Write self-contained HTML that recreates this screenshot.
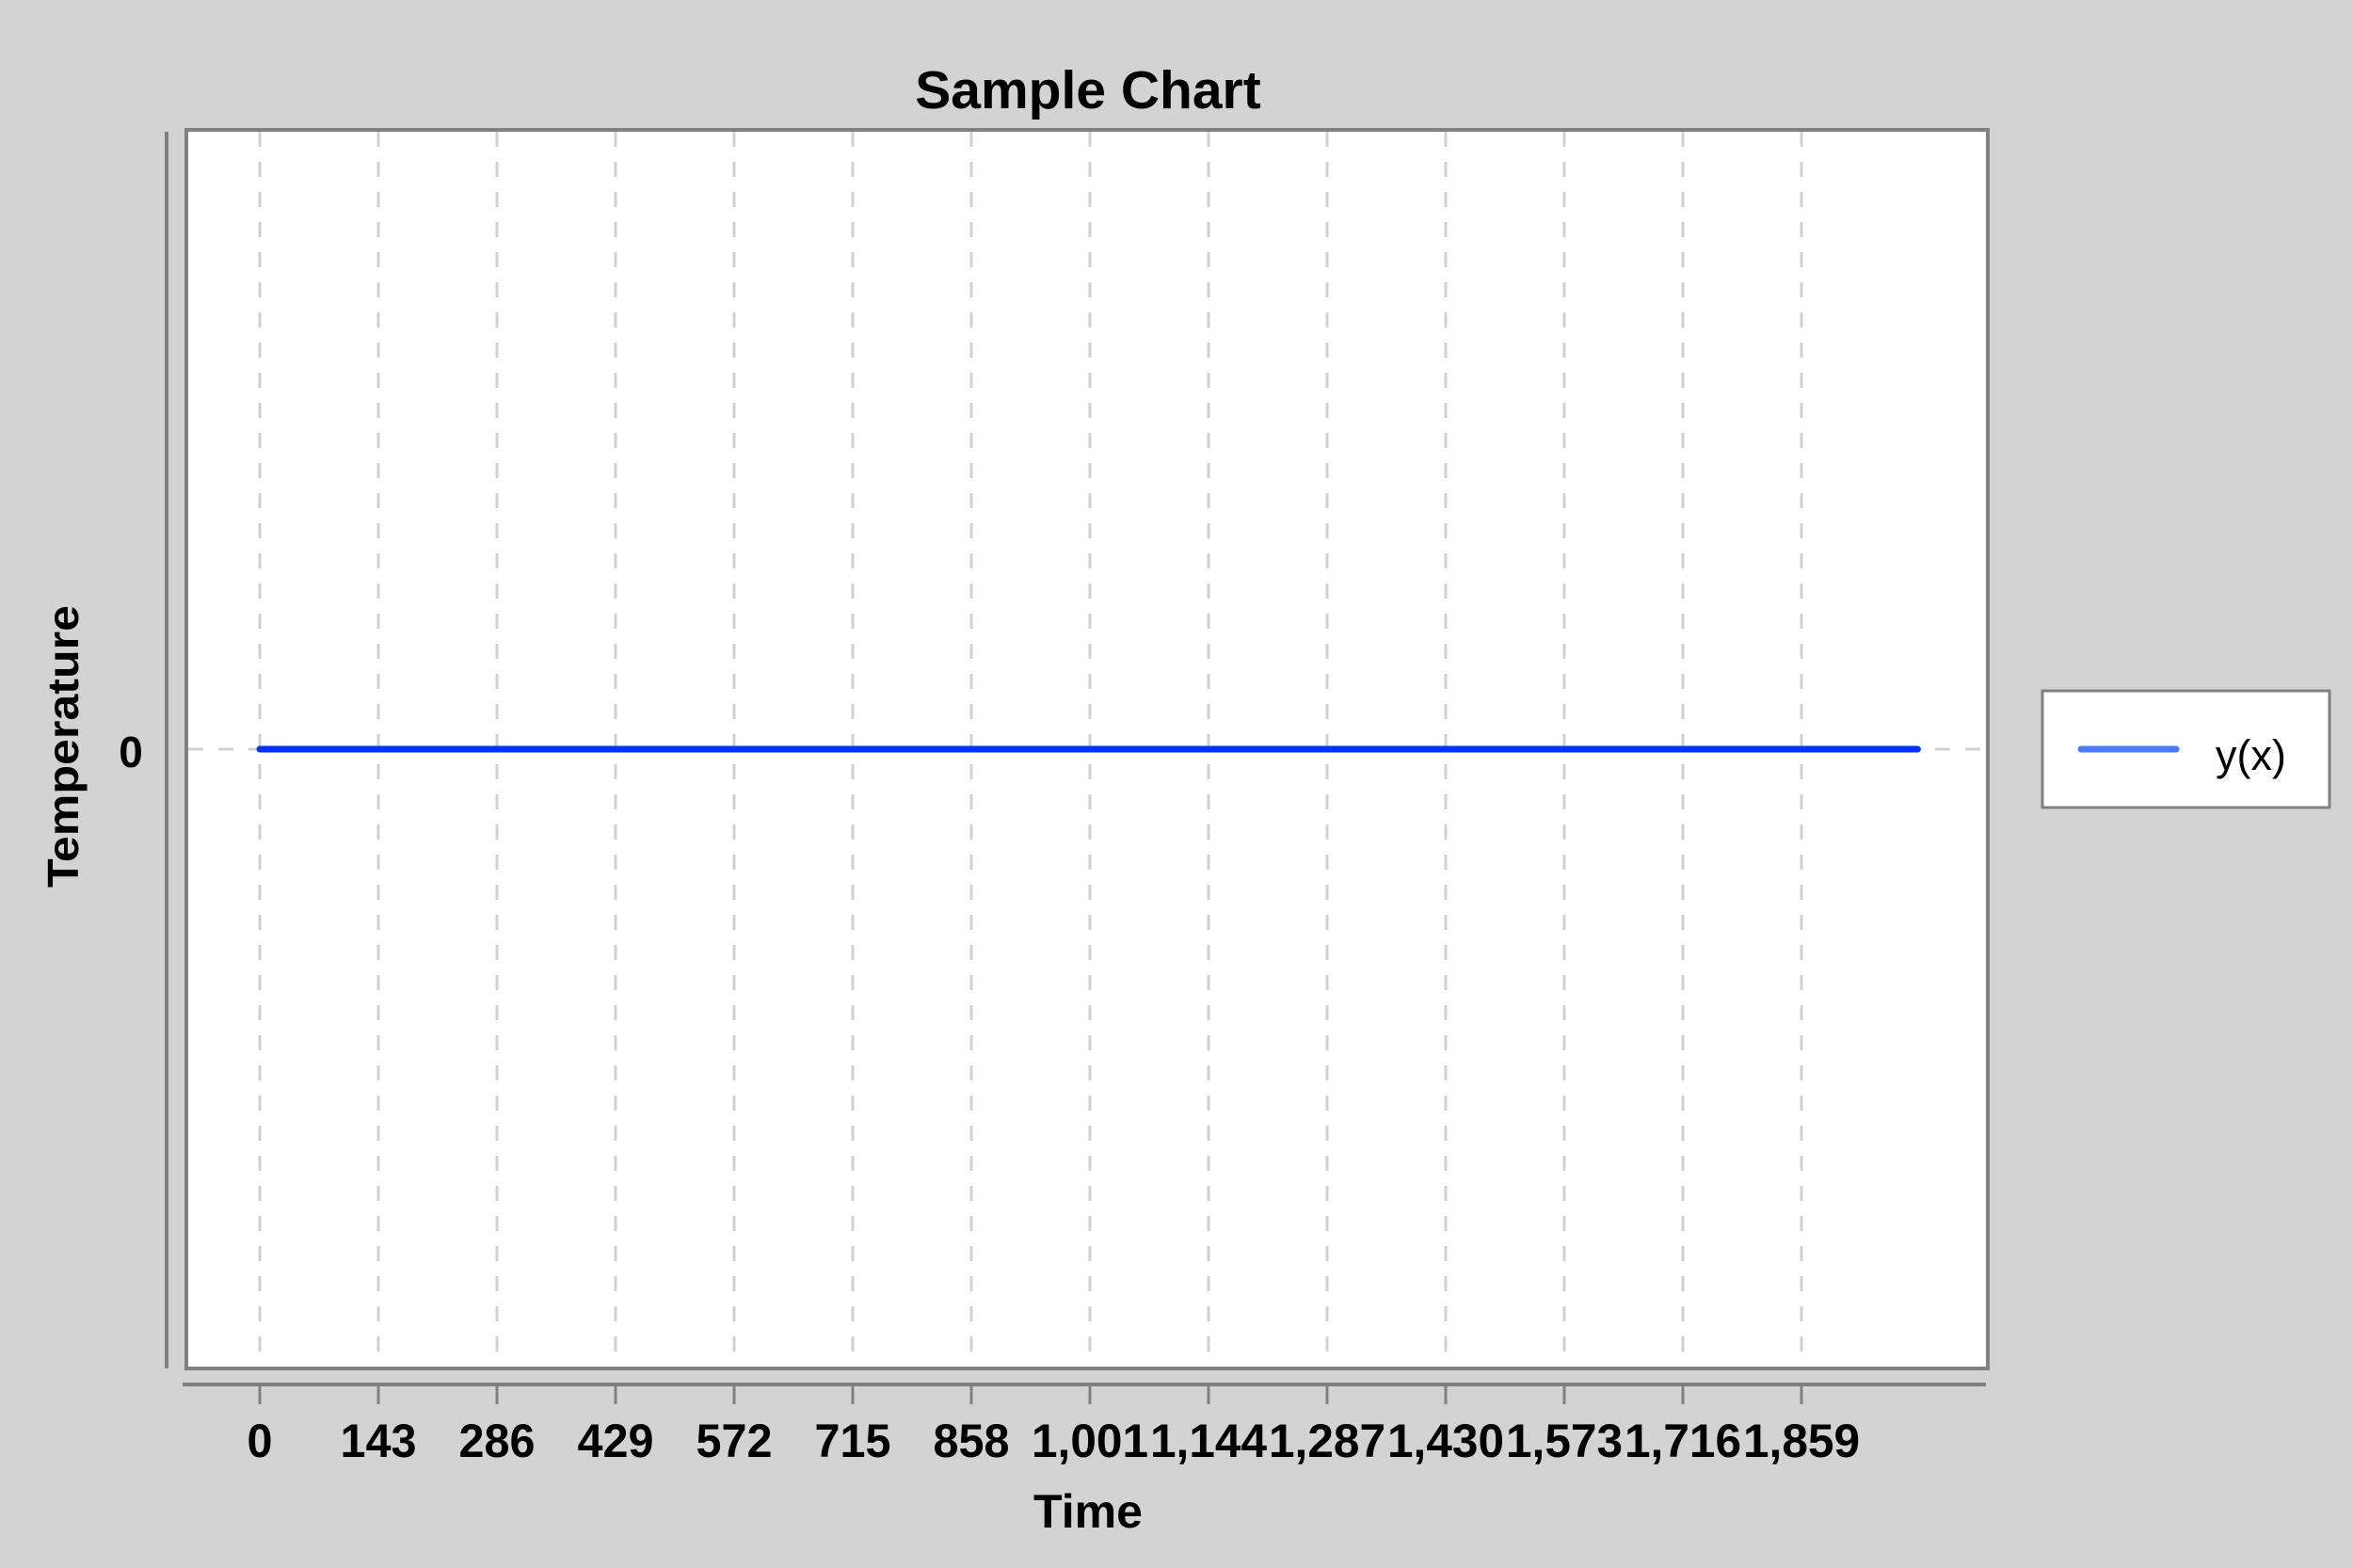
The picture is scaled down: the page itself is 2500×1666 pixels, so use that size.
<!DOCTYPE html>
<html><head><meta charset="utf-8"><style>
html,body{margin:0;padding:0;background:#d3d3d3;}
svg{display:block;font-family:"Liberation Sans",sans-serif;}
</style></head><body>
<svg id="chart" width="2500" height="1666" viewBox="0 0 2500 1666">
<rect x="0" y="0" width="2500" height="1666" fill="#d3d3d3"/>
<text x="1156" y="115" text-anchor="middle" font-size="57" font-weight="bold">Sample Chart</text>
<rect x="198" y="138" width="1914" height="1316" fill="#fff" stroke="#808080" stroke-width="4"/>
<g id="grid"></g>
<line x1="177" y1="140" x2="177" y2="1454" stroke="#808080" stroke-width="4"/>
<line x1="194" y1="1471" x2="2110" y2="1471" stroke="#808080" stroke-width="4"/>
<g id="xticks"></g>
<g id="series"></g>
<text id="y0" x="139" y="815" text-anchor="middle" font-size="46" font-weight="bold">0</text>
<text x="0" y="0" transform="translate(83,793) rotate(-90)" text-anchor="middle" font-size="46" font-weight="bold" textLength="300" lengthAdjust="spacingAndGlyphs">Temperature</text>
<text x="1156" y="1623" text-anchor="middle" font-size="50" font-weight="bold" textLength="116" lengthAdjust="spacingAndGlyphs">Time</text>
<g>
<rect x="2170" y="734" width="305" height="124" fill="#fff" stroke="#808080" stroke-width="3"/>
<line x1="2211" y1="796" x2="2312" y2="796" stroke="#4d79ff" stroke-width="7" stroke-linecap="round"/>
<text x="2354" y="818" font-size="45">y(x)</text>
</g>
</svg>
<script>
const xTicks=[0,143,286,429,572,715,858,1001,1144,1287,1430,1573,1716,1859];
const xTickLabels=["0","143","286","429","572","715","858","1,001","1,144","1,287","1,430","1,573","1,716","1,859"];
const seriesX=[0,1999];
const seriesY=[0,0];
const yTicks=[0];
const NS="http://www.w3.org/2000/svg";
function xs(v){return 276+v*(126/143);}
function ys(v){return 796-v*400;}
const grid=document.getElementById('grid');
const xt=document.getElementById('xticks');
xTicks.forEach((t,i)=>{
  const g=document.createElementNS(NS,'line');
  g.setAttribute('x1',xs(t));g.setAttribute('x2',xs(t));
  g.setAttribute('y1',140);g.setAttribute('y2',1452);
  g.setAttribute('stroke','#d0d0d0');g.setAttribute('stroke-width',3);
  g.setAttribute('stroke-dasharray','16 16');
  
  
  grid.appendChild(g);
  const tk=document.createElementNS(NS,'line');
  tk.setAttribute('x1',xs(t));tk.setAttribute('x2',xs(t));
  tk.setAttribute('y1',1471);tk.setAttribute('y2',1492);
  tk.setAttribute('stroke','#808080');tk.setAttribute('stroke-width',3);
  
  
  xt.appendChild(tk);
  const tx=document.createElementNS(NS,'text');
  tx.setAttribute('x',xs(t));tx.setAttribute('y',1548);
  tx.setAttribute('text-anchor','middle');tx.setAttribute('font-size','50');
  tx.setAttribute('font-weight','bold');
  if(xTickLabels[i].length>3){tx.setAttribute('textLength','124');}
  else{tx.setAttribute('textLength',String(xTickLabels[i].length*27));}
  tx.setAttribute('lengthAdjust','spacingAndGlyphs');
  tx.textContent=xTickLabels[i];
  
  
  xt.appendChild(tx);
});
yTicks.forEach(t=>{
  const g=document.createElementNS(NS,'line');
  g.setAttribute('x1',200);g.setAttribute('x2',2110);
  g.setAttribute('y1',ys(t));g.setAttribute('y2',ys(t));
  g.setAttribute('stroke','#d0d0d0');g.setAttribute('stroke-width',3);
  g.setAttribute('stroke-dasharray','16 16');
  
  
  grid.appendChild(g);
});
const pts=seriesX.map((x,i)=>xs(x)+','+ys(seriesY[i])).join(' ');
const pl=document.createElementNS(NS,'polyline');
pl.setAttribute('points',pts);pl.setAttribute('fill','none');
pl.setAttribute('stroke','#0033ff');pl.setAttribute('stroke-width',7);
pl.setAttribute('stroke-linecap','round');


document.getElementById('series').appendChild(pl);
</script>
</body></html>
